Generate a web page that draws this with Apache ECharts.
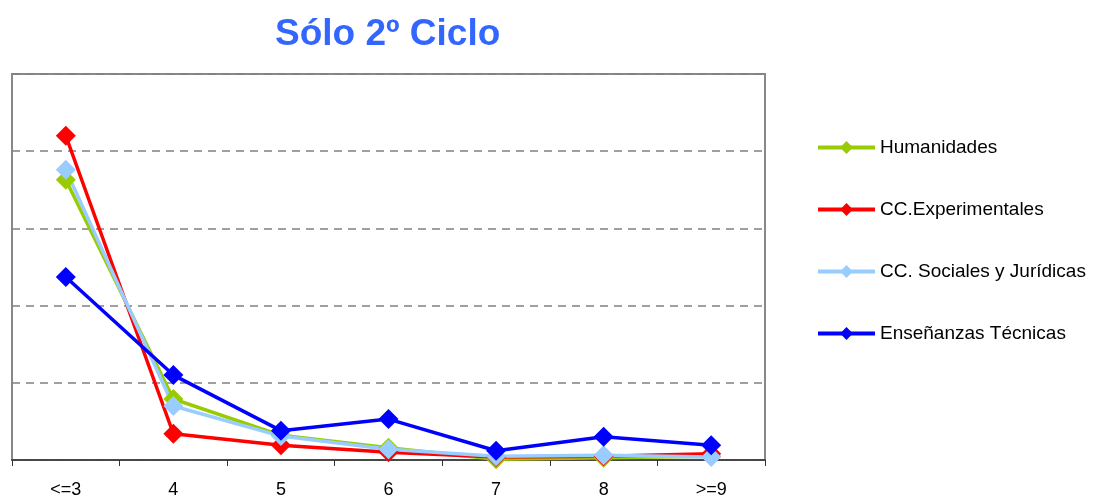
<!DOCTYPE html>
<html>
<head>
<meta charset="utf-8">
<script src="https://cdn.jsdelivr.net/npm/echarts@6/dist/echarts.min.js"></script>
<style>
html, body { margin: 0; padding: 0; background: #fff; }
#main { width: 1104px; height: 499px; }
</style>
</head>
<body>
<div id="main"></div>
<script>
var dom = document.getElementById("main");
var myChart = echarts.init(dom);

// datos (%)
var categorias = ['<=3', '4', '5', '6', '7', '8', '>=9'];
var humanidades = [36.3, 7.9, 3.2, 1.6, 0.1, 0.3, 0.5];
var experimentales = [42.0, 3.4, 1.9, 1.0, 0.4, 0.5, 0.8];
var sociales = [37.6, 7.0, 3.1, 1.4, 0.5, 0.6, 0.4];
var tecnicas = [23.7, 11.0, 3.8, 5.3, 1.2, 3.0, 1.9];

function serie(nombre, datos, color) {
    return {
        name: nombre,
        type: 'line',
        data: datos,
        symbol: 'diamond',
        symbolSize: 20,
        lineStyle: { color: color, width: 3.5 },
        itemStyle: { color: color },
        emphasis: { disabled: true }
    };
}

var option = {
    animation: false,
    title: {
        text: 'Sólo 2º Ciclo',
        left: 270,
        top: 11,
        textStyle: {
            fontFamily: 'Liberation Sans, Arial',
            fontSize: 37,
            fontWeight: 'bold',
            color: '#3366FF'
        }
    },
    legend: {
        orient: 'vertical',
        left: 811,
        top: 133,
        itemWidth: 57,
        itemHeight: 16,
        itemGap: 43,
        lineStyle: { width: 4 },
        textStyle: {
            fontFamily: 'Liberation Sans, Arial',
            fontSize: 19,
            color: '#000'
        },
        data: ['Humanidades', 'CC.Experimentales', 'CC. Sociales y Jurídicas', 'Enseñanzas Técnicas']
    },
    grid: {
        left: 12,
        right: 339,
        top: 74,
        bottom: 38,
        show: true,
        borderColor: '#888',
        borderWidth: 2,
        containLabel: false
    },
    xAxis: {
        type: 'category',
        data: categorias,
        boundaryGap: true,
        axisLine: { lineStyle: { color: '#333', width: 1.5 } },
        axisTick: { show: true, length: 6, lineStyle: { color: '#333' } },
        axisLabel: {
            margin: 21,
            fontFamily: 'Liberation Sans, Arial',
            fontSize: 18,
            color: '#000'
        }
    },
    yAxis: {
        type: 'value',
        min: 0,
        max: 50,
        interval: 10,
        axisLabel: { show: false },
        axisLine: { show: false },
        axisTick: { show: false },
        splitLine: {
            lineStyle: { color: '#808080', type: [8, 6], width: 1.5 }
        }
    },
    series: [
        serie('Humanidades', humanidades, '#99CC00'),
        serie('CC.Experimentales', experimentales, '#FF0000'),
        serie('CC. Sociales y Jurídicas', sociales, '#99CCFF'),
        serie('Enseñanzas Técnicas', tecnicas, '#0000FF')
    ]
};

myChart.setOption(option);
</script>
</body>
</html>
